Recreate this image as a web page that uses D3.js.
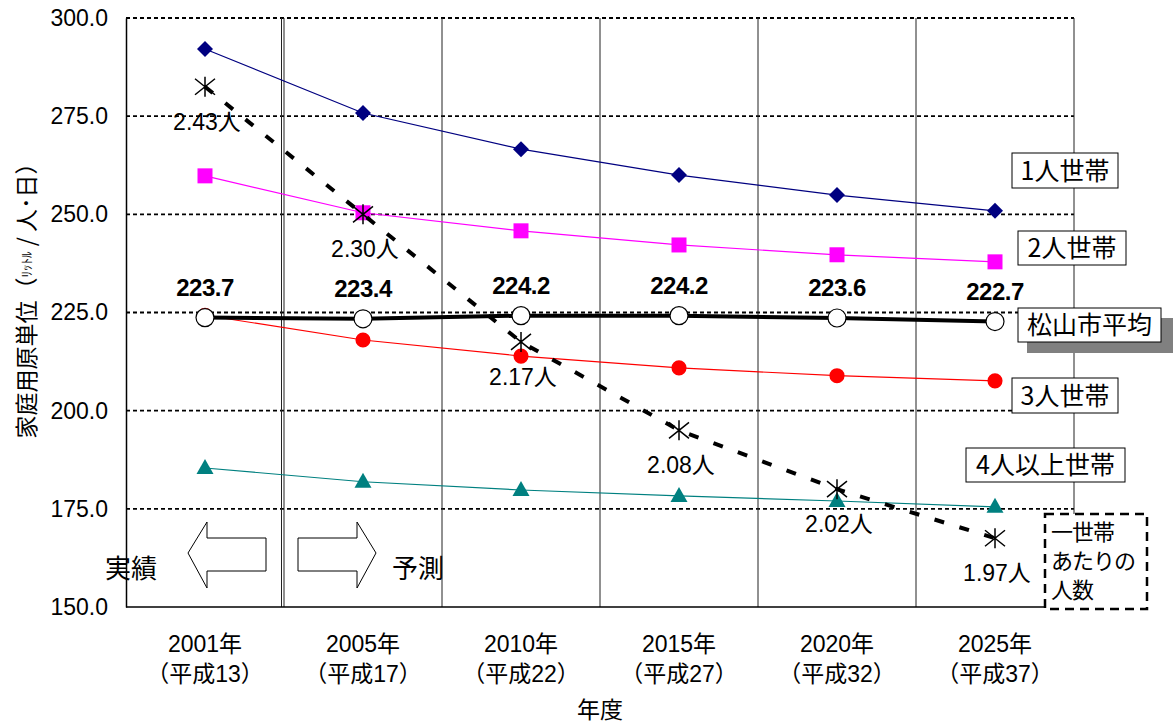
<!DOCTYPE html>
<html>
<head>
<meta charset="utf-8">
<script src="https://cdn.jsdelivr.net/npm/d3@7"></script>
<style>
  body { margin: 0; background: #fff; }
  svg text { font-family: "Liberation Sans", Arial, "Noto Sans CJK JP", sans-serif; }
  .jp { font-family: "Noto Sans CJK JP", sans-serif; }
</style>
</head>
<body>
<div id="chart"></div>
<script>
// data
var years = ["2001年", "2005年", "2010年", "2015年", "2020年", "2025年"];
var eras = ["（平成13）", "（平成17）", "（平成22）", "（平成27）", "（平成32）", "（平成37）"];
var oneHousehold = [292.1, 275.8, 266.6, 260.0, 254.9, 250.9];
var twoHousehold = [259.8, 250.4, 245.8, 242.2, 239.7, 237.9];
var cityAverage = [223.7, 223.4, 224.2, 224.2, 223.6, 222.7];
var threeHousehold = [224.3, 218.0, 213.9, 210.9, 208.9, 207.6];
var fourPlusHousehold = [185.4, 181.9, 179.8, 178.3, 177.0, 175.5];
var personsPerHousehold = [2.43, 2.30, 2.17, 2.08, 2.02, 1.97];
var yTicks = [150, 175, 200, 225, 250, 275, 300];

var svgWidth = 1173;
var svgHeight = 726;
var margin = { top: 18, right: 99, bottom: 119, left: 126 };
var chartWidth = svgWidth - margin.left - margin.right;
var chartHeight = svgHeight - margin.top - margin.bottom;

var svg = d3.select("#chart").append("svg")
  .attr("width", svgWidth)
  .attr("height", svgHeight);

var chartGroup = svg.append("g")
  .attr("transform", `translate(${margin.left}, ${margin.top})`);

var xScale = d3.scaleBand().domain(years).range([0, chartWidth]).padding(0);
var yScale = d3.scaleLinear().domain([150, 300]).range([chartHeight, 0]);
// hidden secondary axis for persons per household
var y2Scale = d3.scaleLinear().domain([1.9, 2.5]).range([chartHeight, 0]);
var cx = d => xScale(d) + xScale.bandwidth() / 2;

// horizontal dotted gridlines
chartGroup.append("g").selectAll("line")
  .data(yTicks.filter(t => t > 150))
  .enter().append("line")
  .attr("x1", 0).attr("x2", chartWidth)
  .attr("y1", d => yScale(d)).attr("y2", d => yScale(d))
  .attr("stroke", "#000").attr("stroke-width", 1.8)
  .attr("stroke-dasharray", "4,3");

// vertical category separators
chartGroup.append("g").selectAll("line")
  .data(years)
  .enter().append("line")
  .attr("x1", d => xScale(d) + xScale.bandwidth())
  .attr("x2", d => xScale(d) + xScale.bandwidth())
  .attr("y1", 0).attr("y2", chartHeight)
  .attr("stroke", "#222").attr("stroke-width", 1);
// double line between actual and forecast
chartGroup.append("line")
  .attr("x1", xScale(years[1]) - 2.5).attr("x2", xScale(years[1]) - 2.5)
  .attr("y1", 0).attr("y2", chartHeight)
  .attr("stroke", "#222").attr("stroke-width", 1);

// axes
var leftAxis = d3.axisLeft(yScale).tickValues(yTicks).tickSize(0).tickPadding(18)
  .tickFormat(d3.format(".1f"));
var yAxis = chartGroup.append("g").call(leftAxis);
yAxis.select(".domain").attr("stroke", "#000").attr("stroke-width", 1.5);
yAxis.selectAll("text").attr("font-size", 23).attr("fill", "#000")
  .style("font-family", "'Liberation Sans', Arial, sans-serif");

chartGroup.append("line")
  .attr("x1", 0).attr("x2", chartWidth)
  .attr("y1", chartHeight).attr("y2", chartHeight)
  .attr("stroke", "#000").attr("stroke-width", 1.5);

// x labels
var xLabels = chartGroup.append("g");
xLabels.selectAll(".yr").data(years).enter().append("text")
  .attr("x", d => cx(d)).attr("y", chartHeight + 45)
  .attr("text-anchor", "middle").attr("font-size", 23)
  .text(d => d);
xLabels.selectAll(".era").data(eras).enter().append("text")
  .attr("x", (d, i) => cx(years[i])).attr("y", chartHeight + 75)
  .attr("text-anchor", "middle").attr("font-size", 23)
  .text(d => d);

// axis titles
chartGroup.append("text")
  .attr("x", chartWidth / 2).attr("y", chartHeight + 111)
  .attr("text-anchor", "middle").attr("font-size", 23)
  .attr("class", "jp")
  .text("年度");

var yTitle = svg.append("text")
  .attr("transform", "translate(35, 295) rotate(-90)")
  .attr("text-anchor", "middle").attr("font-size", 23)
  .attr("class", "jp");
yTitle.append("tspan").text("家庭用原単位（");
yTitle.append("tspan").attr("font-size", 13).attr("dy", -4).text("ﾘｯﾄﾙ");
yTitle.append("tspan").attr("dy", 4).text(" / 人･日）");

// series
function drawSeries(values, color, width, marker) {
  var line = d3.line().x((d, i) => cx(years[i])).y(d => yScale(d));
  chartGroup.append("path").datum(values)
    .attr("d", line).attr("fill", "none")
    .attr("stroke", color).attr("stroke-width", width);
  chartGroup.append("g").selectAll("path").data(values).enter().append("path")
    .attr("transform", (d, i) => `translate(${cx(years[i])}, ${yScale(d)})`)
    .attr("d", marker)
    .attr("fill", color);
}

drawSeries(oneHousehold, "#000080", 1.2, "M0,-8L8,0L0,8L-8,0Z");
drawSeries(twoHousehold, "#ff00ff", 1.2, d3.symbol().type(d3.symbolSquare).size(225)());
drawSeries(threeHousehold, "#ff0000", 1.2, d3.symbol().type(d3.symbolCircle).size(180)());
drawSeries(fourPlusHousehold, "#008080", 1.2, "M0,-9L8.5,6L-8.5,6Z");

// city average
var avgLine = d3.line().x((d, i) => cx(years[i])).y(d => yScale(d));
chartGroup.append("path").datum(cityAverage)
  .attr("d", avgLine).attr("fill", "none")
  .attr("stroke", "#000").attr("stroke-width", 4);
chartGroup.append("g").selectAll("circle").data(cityAverage).enter().append("circle")
  .attr("cx", (d, i) => cx(years[i])).attr("cy", d => yScale(d))
  .attr("r", 9).attr("fill", "#fff").attr("stroke", "#000").attr("stroke-width", 1.2);
chartGroup.append("g").selectAll("text").data(cityAverage).enter().append("text")
  .attr("x", (d, i) => cx(years[i])).attr("y", d => yScale(d) - 22)
  .attr("text-anchor", "middle").attr("font-size", 24).attr("font-weight", "bold")
  .attr("letter-spacing", -0.5)
  .text(d => d.toFixed(1));

// persons per household
var personLine = d3.line().x((d, i) => cx(years[i])).y(d => y2Scale(d));
chartGroup.append("path").datum(personsPerHousehold)
  .attr("d", personLine).attr("fill", "none")
  .attr("stroke", "#000").attr("stroke-width", 4)
  .attr("stroke-dasharray", "10,16");
chartGroup.append("g").selectAll("path").data(personsPerHousehold).enter().append("path")
  .attr("transform", (d, i) => `translate(${cx(years[i])}, ${y2Scale(d)})`)
  .attr("d", "M0,-10V10M-10,-8L10,8M-10,8L10,-8")
  .attr("stroke", "#000").attr("stroke-width", 1.5).attr("fill", "none");
chartGroup.append("g").selectAll("text").data(personsPerHousehold).enter().append("text")
  .attr("x", (d, i) => cx(years[i]) + 2).attr("y", d => y2Scale(d) + 43)
  .attr("text-anchor", "middle").attr("font-size", 23)
  .text(d => d.toFixed(2) + "人");

// actual / forecast arrows
svg.append("path")
  .attr("d", "M188,553 L207,522 L207,538 L266,538 L266,571 L207,571 L207,588 Z")
  .attr("fill", "#fff").attr("stroke", "#000").attr("stroke-width", 1);
svg.append("path")
  .attr("d", "M376,553 L357,522 L357,538 L298,538 L298,571 L357,571 L357,588 Z")
  .attr("fill", "#fff").attr("stroke", "#000").attr("stroke-width", 1);
svg.append("text").attr("class", "jp").attr("x", 105).attr("y", 578)
  .attr("font-size", 26).text("実績");
svg.append("text").attr("class", "jp").attr("x", 392).attr("y", 578)
  .attr("font-size", 26).text("予測");

// legend labels
var legendBoxes = [
  { text: "1人世帯", x: 1012, y: 153, w: 106, h: 35 },
  { text: "2人世帯", x: 1018, y: 231, w: 108, h: 34 },
  { text: "3人世帯", x: 1012, y: 378, w: 106, h: 35 },
  { text: "4人以上世帯", x: 966, y: 448, w: 159, h: 34 }
];
svg.append("rect").attr("x", 1027).attr("y", 318).attr("width", 150).attr("height", 35)
  .attr("fill", "#808080");
legendBoxes.push({ text: "松山市平均", x: 1018, y: 308, w: 143, h: 34 });
legendBoxes.forEach(function(b) {
  svg.append("rect").attr("x", b.x).attr("y", b.y).attr("width", b.w).attr("height", b.h)
    .attr("fill", "#fff").attr("stroke", "#000").attr("stroke-width", 1);
  svg.append("text").attr("class", "jp")
    .attr("x", b.x + b.w / 2).attr("y", b.y + b.h / 2 + 9)
    .attr("text-anchor", "middle").attr("font-size", 25)
    .text(b.text);
});

// persons note box
svg.append("rect").attr("x", 1045).attr("y", 514).attr("width", 102).attr("height", 95)
  .attr("fill", "#fff").attr("stroke", "#000").attr("stroke-width", 2.5)
  .attr("stroke-dasharray", "9,6");
["一世帯", "あたりの", "人数"].forEach(function(t, i) {
  svg.append("text").attr("class", "jp")
    .attr("x", 1051).attr("y", 540 + i * 29)
    .attr("font-size", 22).attr("letter-spacing", -1).text(t);
});
</script>
</body>
</html>
